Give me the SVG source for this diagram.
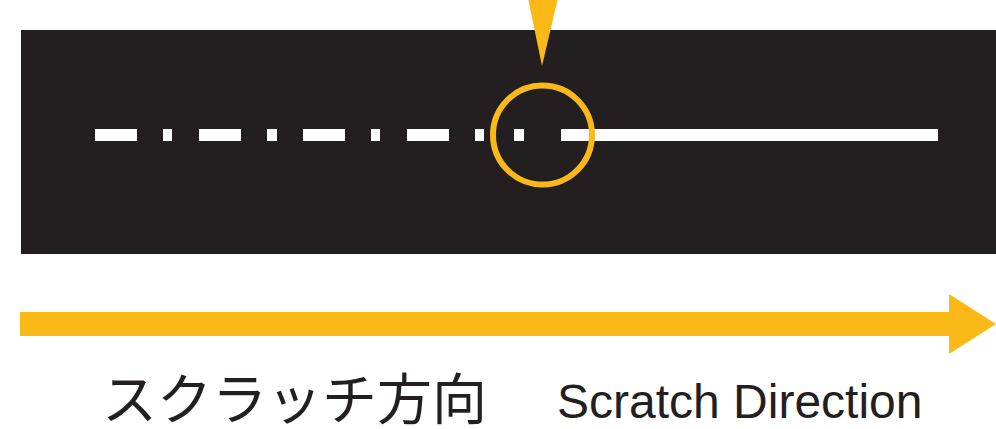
<svg xmlns="http://www.w3.org/2000/svg" width="996" height="429" viewBox="0 0 996 429">
<style>
.w{fill:#ffffff}
.y{fill:#fbb918}
.t{fill:#231f20;font-family:"Liberation Sans","Noto Sans CJK JP",sans-serif}
.j{fill:#231f20;font-family:"Noto Sans CJK JP",sans-serif}
</style>
<rect x="0" y="0" width="996" height="429" fill="#ffffff"/>
<g id="panel">
<rect x="21" y="30" width="975" height="224" fill="#231f20"/>
<rect class="w" x="95" y="129" width="42" height="12"/>
<rect class="w" x="163" y="129" width="9" height="12"/>
<rect class="w" x="199" y="129" width="42" height="12"/>
<rect class="w" x="267" y="129" width="10" height="12"/>
<rect class="w" x="303" y="129" width="42" height="12"/>
<rect class="w" x="371" y="129" width="9" height="12"/>
<rect class="w" x="407" y="129" width="42" height="12"/>
<rect class="w" x="475" y="129" width="9" height="12"/>
<rect class="w" x="514" y="129" width="10" height="12"/>
<rect class="w" x="561" y="129" width="377" height="12"/>
</g>
<g id="marker">
<circle cx="542.5" cy="135" r="49.5" fill="none" stroke="#fbb918" stroke-width="6"/>
<polygon class="y" points="528,-2 558,-2 542,66"/>
</g>
<g id="connectors">
<polygon class="y" points="20,312 949,312 949,294 996,324 949,354 949,336 20,336"/>
</g>
<g id="labels">
<text class="j" x="102" y="419" font-size="55">スクラッチ方向</text>
<text class="t" x="557" y="418" font-size="48">Scratch Direction</text>
</g>
</svg>
